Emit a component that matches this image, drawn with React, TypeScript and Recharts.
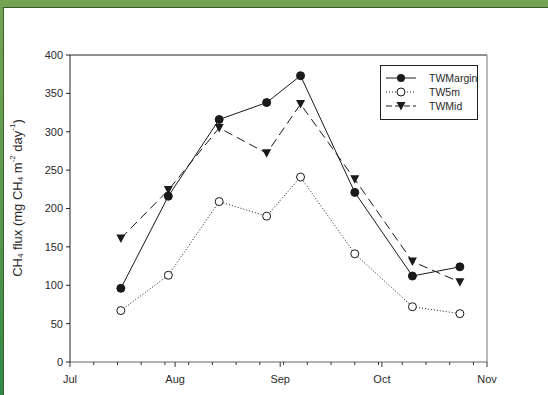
import React from "react";
import { LineChart, Line, XAxis, YAxis, Legend, ReferenceLine } from "recharts";

// sampling days, counted from Jul 1
const sampleDays = [15, 29, 44, 58, 68, 84, 101, 115];
const twMargin = [96, 216, 316, 338, 373, 221, 112, 124];
const tw5m = [67, 113, 209, 190, 241, 141, 72, 63];
const twMid = [161, 224, 305, 272, 336, 238, 131, 104];

const monthDays = [0, 31, 62, 92, 123];
const monthLabels = ["Jul", "Aug", "Sep", "Oct", "Nov"];
const weekDays = [7, 14, 21, 28, 35, 42, 49, 56, 63, 70, 77, 84, 91, 98, 105, 112, 119];
const yTicks = [0, 50, 100, 150, 200, 250, 300, 350, 400];

const data = sampleDays.map((d, i) => ({
  day: d,
  margin: twMargin[i],
  m5: tw5m[i],
  mid: twMid[i],
}));

const xTicks = [...monthDays, ...weekDays].sort((a, b) => a - b);

const FONT = "'Liberation Sans', Arial, sans-serif";
const INK = "#1a1a1a";
const TXT = "#2a2a2a";

const XTick = (props: any) => {
  const { x, y, payload } = props;
  const idx = monthDays.indexOf(payload.value);
  const major = idx >= 0;
  return (
    <g>
      <line x1={x} x2={x} y1={y} y2={y + (major ? 5 : 3)} stroke="#333" strokeWidth={1} />
      {major && (
        <text x={x} y={y + 21} textAnchor="middle" fontSize={11} fill={TXT} fontFamily={FONT}>
          {monthLabels[idx]}
        </text>
      )}
    </g>
  );
};

const Dot = ({ cx, cy, fill }: any) => (
  <circle cx={cx} cy={cy} r={4} fill={fill} stroke={INK} strokeWidth={1} />
);

const Tri = ({ cx, cy }: any) => (
  <path d={`M${cx - 4.5},${cy - 4} L${cx + 4.5},${cy - 4} L${cx},${cy + 4.5} Z`} fill={INK} />
);

const YLabel = () => {
  const cy = 198;
  const cx = 17;
  return (
    <text
      x={cx}
      y={cy}
      transform={`rotate(-90 ${cx} ${cy})`}
      textAnchor="middle"
      dominantBaseline="central"
      fontSize={13}
      fill={TXT}
      fontFamily={FONT}
    >
      CH<tspan fontSize={8} dy={3}>4</tspan>
      <tspan dy={-3}> flux (mg CH</tspan>
      <tspan fontSize={8} dy={3}>4</tspan>
      <tspan dy={-3}> m</tspan>
      <tspan fontSize={8} dy={-5}>-2</tspan>
      <tspan dy={5}> day</tspan>
      <tspan fontSize={8} dy={-5}>-1</tspan>
      <tspan dy={5}>)</tspan>
    </text>
  );
};

const legendItems = [
  { name: "TWMargin", dash: undefined, marker: "fill" },
  { name: "TW5m", dash: "1 2", marker: "open" },
  { name: "TWMid", dash: "6 3", marker: "tri" },
];

const LegendBox = () => (
  <svg width={98} height={55} style={{ display: "block" }}>
    <rect x={0.5} y={0.5} width={97} height={54} fill="#fff" stroke="#222" />
    {legendItems.map((it, i) => {
      const y = 13 + i * 14;
      const cx = 21;
      return (
        <g key={it.name}>
          <line x1={6} x2={36} y1={y} y2={y} stroke={INK} strokeDasharray={it.dash} />
          {it.marker === "fill" && <circle cx={cx} cy={y} r={4} fill={INK} />}
          {it.marker === "open" && <circle cx={cx} cy={y} r={4} fill="#fff" stroke={INK} />}
          {it.marker === "tri" && (
            <path d={`M${cx - 4.5},${y - 4} L${cx + 4.5},${y - 4} L${cx},${y + 4.5} Z`} fill={INK} />
          )}
          <text x={49} y={y + 4} fontSize={10.5} fill={TXT} fontFamily={FONT}>
            {it.name}
          </text>
        </g>
      );
    })}
  </svg>
);

export default function App() {
  return (
    <div style={{ position: "absolute", left: 0, top: 0, width: 548, height: 395, overflow: "hidden" }}>
      <div
        style={{
          position: "absolute",
          inset: 0,
          background: "linear-gradient(to bottom, #74a453 0%, #5c9a4e 50%, #2f8a47 100%)",
        }}
      />
      <div
        style={{
          position: "absolute",
          left: 3,
          top: 7,
          right: 0,
          bottom: 0,
          background: "#fff",
          borderLeft: "1px solid #3d5a30",
          borderTop: "1px solid #3d5a30",
        }}
      />
      <div style={{ position: "absolute", left: 0, top: 0 }}>
        <LineChart
          width={548}
          height={395}
          data={data}
          margin={{ top: 55, right: 61, bottom: 0, left: 0 }}
        >
          <XAxis
            dataKey="day"
            type="number"
            domain={[0, 123]}
            ticks={xTicks}
            interval={0}
            tick={<XTick />}
            tickLine={false}
            tickSize={0}
            tickMargin={0}
            height={33}
            stroke="#666"
          />
          <YAxis
            type="number"
            domain={[0, 400]}
            ticks={yTicks}
            interval={0}
            width={70}
            tickSize={4}
            tickMargin={3}
            stroke="#222"
            tick={{ fontSize: 11, fill: TXT, fontFamily: FONT }}
            label={{ content: <YLabel /> }}
          />
          <ReferenceLine y={400} stroke="#222" />
          <ReferenceLine x={123} stroke="#777" />
          <Legend
            layout="vertical"
            verticalAlign="middle"
            align="center"
            wrapperStyle={{ top: 65, left: 380, width: 98, height: 55 }}
            content={() => <LegendBox />}
          />
          <Line
            dataKey="m5"
            name="TW5m"
            stroke={INK}
            strokeWidth={1}
            strokeDasharray="1 2"
            dot={<Dot fill="#fff" />}
            isAnimationActive={false}
          />
          <Line
            dataKey="mid"
            name="TWMid"
            stroke={INK}
            strokeWidth={1}
            strokeDasharray="9 5"
            dot={<Tri />}
            isAnimationActive={false}
          />
          <Line
            dataKey="margin"
            name="TWMargin"
            stroke={INK}
            strokeWidth={1}
            dot={<Dot fill={INK} />}
            isAnimationActive={false}
          />
        </LineChart>
      </div>
    </div>
  );
}
